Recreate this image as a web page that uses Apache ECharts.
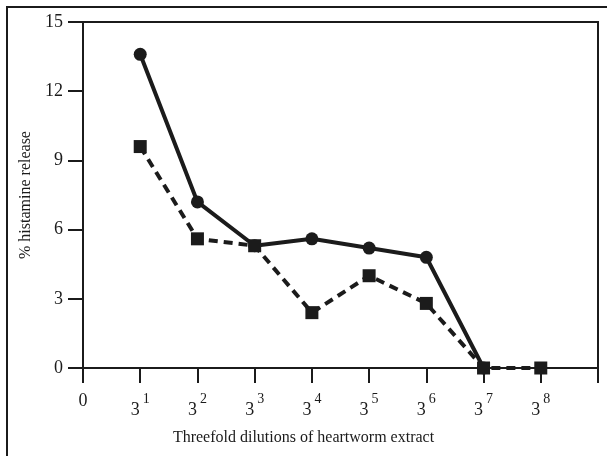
<!DOCTYPE html>
<html>
<head>
<meta charset="utf-8">
<title>histamine release</title>
<script src="https://cdn.jsdelivr.net/npm/echarts@6/dist/echarts.min.js"></script>
<style>
    html, body { margin: 0; padding: 0; background: #fff; }
    #chart { width: 607px; height: 456px; }
</style>
</head>
<body>
<div id="chart"></div>
<script>
    // dilution steps (exponent of 3), 0 = origin label
    var dilutions = [1, 2, 3, 4, 5, 6, 7, 8];
    var circleVals = [13.6, 7.2, 5.3, 5.6, 5.2, 4.8, 0];
    var squareVals = [9.6, 5.6, 5.3, 2.4, 4.0, 2.8, 0, 0];
    var yTicks = [0, 3, 6, 9, 12, 15];

    function pairs(vals) {
        var out = [];
        for (var i = 0; i < vals.length; i++) out.push([dilutions[i], vals[i]]);
        return out;
    }

    var ink = '#1b1b1b';
    var serif = '"Liberation Serif", "DejaVu Serif", serif';

    var myChart = echarts.init(document.getElementById('chart'));
    var option = {
        backgroundColor: '#fff',
        animation: false,
        grid: {
            left: 83, right: 9, top: 22, bottom: 88,
            show: true, borderColor: ink, borderWidth: 2
        },
        graphic: [{
            type: 'rect',
            shape: { x: 7, y: 7, width: 700, height: 600 },
            style: { fill: 'none', stroke: ink, lineWidth: 2 }
        }],
        xAxis: {
            type: 'value',
            min: 0, max: 9, interval: 1,
            name: 'Threefold dilutions of heartworm extract',
            nameLocation: 'middle',
            nameGap: 62,
            nameTextStyle: { fontFamily: serif, fontSize: 16, color: ink, padding: [0, 74, 0, 0] },
            axisLine: { lineStyle: { color: ink, width: 2 } },
            axisTick: { inside: false, length: 15, lineStyle: { color: ink, width: 2 } },
            splitLine: { show: false },
            axisLabel: {
                margin: 24,
                color: ink,
                fontFamily: serif,
                fontSize: 18,
                formatter: function (v) {
                    if (v === 0) return '0';
                    if (v > 8) return '';
                    return '{b|3}{s|' + v + '}';
                },
                rich: {
                    b: { fontFamily: serif, fontSize: 18, color: ink, padding: [4, 0, 0, 0] },
                    s: { fontFamily: serif, fontSize: 14, color: ink, padding: [0, 0, 18, 3] }
                }
            }
        },
        yAxis: {
            type: 'value',
            min: yTicks[0], max: yTicks[yTicks.length - 1], interval: 3,
            name: '% histamine release',
            nameLocation: 'middle',
            nameRotate: 90,
            nameGap: 41,
            nameTextStyle: { fontFamily: serif, fontSize: 16, color: ink },
            axisLine: { show: true, lineStyle: { color: ink, width: 2 } },
            axisTick: { show: true, inside: false, length: 15, lineStyle: { color: ink, width: 2 } },
            splitLine: { show: false },
            axisLabel: { margin: 20, color: ink, fontFamily: serif, fontSize: 18 }
        },
        series: [{
            type: 'line',
            data: pairs(circleVals),
            symbol: 'circle',
            symbolSize: 13,
            itemStyle: { color: ink },
            lineStyle: { color: ink, width: 4 }
        }, {
            type: 'line',
            data: pairs(squareVals),
            symbol: 'rect',
            symbolSize: 13,
            itemStyle: { color: ink },
            lineStyle: { color: ink, width: 4, type: [9, 6] }
        }]
    };
    myChart.setOption(option);
</script>
</body>
</html>
